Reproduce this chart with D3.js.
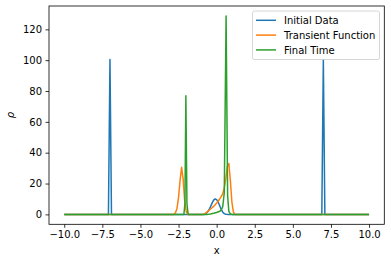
<!DOCTYPE html>
<html>
<head>
<meta charset="utf-8">
<script src="https://cdn.jsdelivr.net/npm/d3@7"></script>
<style>
  body { margin: 0; background: #fff; }
  svg { display: block; font-family: "DejaVu Sans", sans-serif; }
</style>
</head>
<body>
<svg width="391" height="262"></svg>
<script>
// series values as [x, rho] pairs
const initialData = [
  [-10, 0], [-7.1, 0], [-7.0, 100.5], [-6.9, 0],
  [-0.8, 0], [-0.7, 0.5], [-0.6, 1.5], [-0.5, 3], [-0.4, 5], [-0.3, 7.3],
  [-0.2, 9.2], [-0.1, 10], [0.0, 9.6], [0.1, 8], [0.2, 5.6], [0.3, 3.2],
  [0.4, 1.4], [0.5, 0.5], [0.6, 0.1], [0.7, 0],
  [6.9, 0], [7.0, 100.5], [7.1, 0], [10, 0]
];
const transientData = [
  [-10, 0], [-2.8, 0], [-2.7, 1], [-2.6, 4], [-2.5, 11], [-2.4, 22], [-2.3, 30.5],
  [-2.2, 23], [-2.1, 9], [-2.0, 2], [-1.9, 0],
  [-0.9, 0], [-0.8, 0.3], [-0.7, 1], [-0.6, 1.8], [-0.5, 2.6], [-0.4, 3.5],
  [-0.3, 4.3], [-0.2, 5.2], [-0.1, 6.2], [0.0, 7.3], [0.1, 8.5], [0.2, 10],
  [0.3, 11.5], [0.4, 13.5], [0.5, 17], [0.6, 23], [0.7, 31], [0.8, 33],
  [0.9, 22], [1.0, 8], [1.1, 1.5], [1.2, 0], [10, 0]
];
const finalData = [
  [-10, 0], [-2.15, 0], [-2.08, 7], [-2.02, 77], [-1.95, 7], [-1.87, 0],
  [-0.6, 0], [-0.4, 0.3], [-0.2, 0.7], [0.0, 1.2], [0.2, 2], [0.3, 2.8],
  [0.4, 5], [0.5, 14], [0.62, 128.7], [0.72, 12], [0.8, 2], [0.9, 0.3],
  [1.0, 0], [10, 0]
];
const seriesNames = ["Initial Data", "Transient Function", "Final Time"];
const seriesColors = ["#1f77b4", "#ff7f0e", "#2ca02c"];
const xTicks = [-10, -7.5, -5, -2.5, 0, 2.5, 5, 7.5, 10];
const yTicks = [0, 20, 40, 60, 80, 100, 120];

const svg = d3.select("svg");
const mLeft = 49, mRight = 384.3, mTop = 6, mBottom = 224.3;

const x = d3.scaleLinear().domain([-11, 11]).range([mLeft, mRight]);
const y = d3.scaleLinear().domain([-6.435, 135.135]).range([mBottom, mTop]);

const minus = s => s.replace("-", "\u2212");

svg.append("defs").append("clipPath").attr("id", "clip")
  .append("rect").attr("x", mLeft).attr("y", mTop)
  .attr("width", mRight - mLeft).attr("height", mBottom - mTop);

const line = d3.line().x(d => x(d[0])).y(d => y(d[1]));

const plot = svg.append("g").attr("clip-path", "url(#clip)");
[initialData, transientData, finalData].forEach((data, i) => {
  plot.append("path")
    .datum(data)
    .attr("d", line)
    .attr("fill", "none")
    .attr("stroke", seriesColors[i])
    .attr("stroke-width", 1.5)
    .attr("stroke-linejoin", "round");
});

// axes
const xAxis = d3.axisBottom(x).tickValues(xTicks)
  .tickFormat(d => minus(d3.format(".1f")(d)))
  .tickSize(3.5).tickPadding(3.5);
const yAxis = d3.axisLeft(y).tickValues(yTicks)
  .tickFormat(d => d)
  .tickSize(3.5).tickPadding(3.5);

const gx = svg.append("g").attr("transform", "translate(0," + mBottom + ")").call(xAxis);
const gy = svg.append("g").attr("transform", "translate(" + mLeft + ",0)").call(yAxis);
[gx, gy].forEach(g => {
  g.select(".domain").remove();
  g.selectAll(".tick line").attr("stroke", "#000").attr("stroke-width", 0.8);
  g.selectAll(".tick text").attr("fill", "#000").attr("font-size", 10)
    .attr("font-family", "DejaVu Sans");
});

svg.append("rect")
  .attr("x", mLeft).attr("y", mTop)
  .attr("width", mRight - mLeft).attr("height", mBottom - mTop)
  .attr("fill", "none").attr("stroke", "#000").attr("stroke-width", 0.8);

svg.append("text")
  .attr("x", (mLeft + mRight) / 2).attr("y", 254)
  .attr("text-anchor", "middle").attr("font-size", 10)
  .text("x");

svg.append("text")
  .attr("transform", "translate(14," + ((mTop + mBottom) / 2) + ") rotate(-90)")
  .attr("text-anchor", "middle").attr("font-size", 10)
  .attr("font-style", "italic")
  .text("\u03c1");

// legend
const lg = svg.append("g");
lg.append("rect")
  .attr("x", 252.5).attr("y", 11).attr("width", 127).attr("height", 48.5)
  .attr("rx", 2).attr("fill", "#fff").attr("fill-opacity", 0.8)
  .attr("stroke", "#ccc").attr("stroke-width", 0.8);
seriesNames.forEach((name, i) => {
  const yy = 20.3 + i * 14.8;
  lg.append("line")
    .attr("x1", 256).attr("x2", 276).attr("y1", yy).attr("y2", yy)
    .attr("stroke", seriesColors[i]).attr("stroke-width", 1.5);
  lg.append("text")
    .attr("x", 284).attr("y", yy + 3.6)
    .attr("font-size", 10).attr("fill", "#000")
    .text(name);
});
</script>
</body>
</html>
